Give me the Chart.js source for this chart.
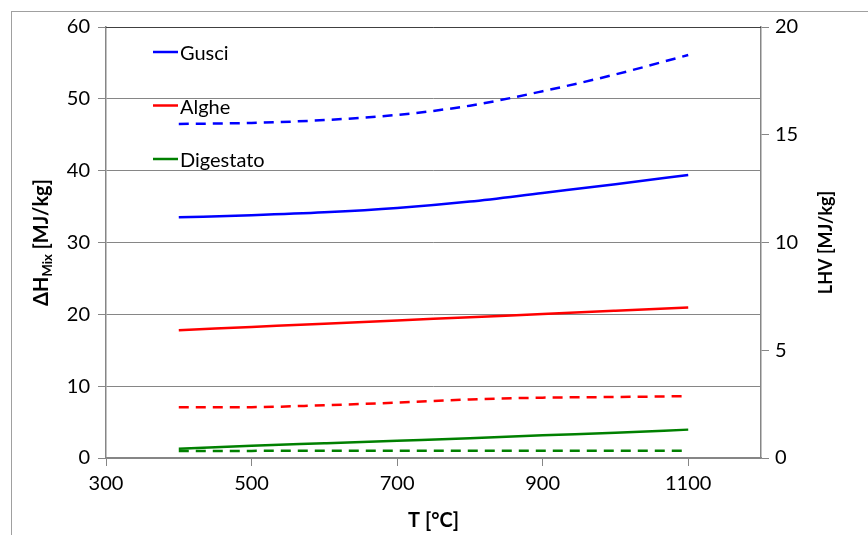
<!DOCTYPE html>
<html>
<head>
<meta charset="utf-8">
<script src="https://cdn.jsdelivr.net/npm/chart.js@4"></script>
<style>
  body { margin: 0; background: #fff; }
  #cornice { position: absolute; left: 11px; top: 11px; width: 900px; height: 600px; border: 1px solid #a0a0a0; }
  #contenitore { position: absolute; left: 0; top: 0; width: 868px; height: 535px; }
</style>
</head>
<body>
<div id="cornice"></div>
<div id="contenitore"><canvas id="grafico" width="868" height="535"></canvas></div>
<script>
// temperature [°C]
const temperature = [400, 500, 600, 700, 800, 900, 1000, 1100];
const tickX = [300, 500, 700, 900, 1100];

// ΔH Mix [MJ/kg] (asse sinistro)
const dhGusci = [33.5, 33.8, 34.2, 34.8, 35.7, 36.9, 38.1, 39.4];
const dhAlghe = [17.8, 18.25, 18.7, 19.15, 19.6, 20.05, 20.5, 20.95];
const dhDigestato = [1.3, 1.7, 2.05, 2.4, 2.75, 3.15, 3.5, 3.95];

// LHV [MJ/kg] (asse destro)
const lhvGusci = [15.5, 15.55, 15.68, 15.92, 16.35, 17.02, 17.8, 18.7];
const lhvAlghe = [2.36, 2.36, 2.45, 2.57, 2.72, 2.8, 2.83, 2.87];
const lhvDigestato = [0.32, 0.33, 0.34, 0.34, 0.34, 0.34, 0.34, 0.34];

const nomi = ["Gusci", "Alghe", "Digestato"];
const colori = ["#0000ff", "#ff0000", "#008000"];

const font = "Lato";
const grigio = "#868686";

function punti(valori) {
  return valori.map((v, i) => ({ x: temperature[i], y: v }));
}

function serie(label, valori, colore, asse, tratteggio) {
  return {
    label: label,
    data: punti(valori),
    borderColor: colore,
    backgroundColor: colore,
    borderWidth: 2.5,
    borderDash: tratteggio ? [10, 7] : [],
    pointRadius: 0,
    cubicInterpolationMode: "monotone",
    yAxisID: asse,
    fill: false
  };
}

const titoli = {
  id: "titoli",
  afterDraw(chart) {
    const ctx = chart.ctx;
    const area = chart.chartArea;
    const cy = (area.top + area.bottom) / 2;
    ctx.save();
    ctx.fillStyle = "#000";

    // linea superiore più scura
    ctx.strokeStyle = "#404040";
    ctx.lineWidth = 1;
    ctx.beginPath();
    ctx.moveTo(area.left, area.top + 0.5);
    ctx.lineTo(area.right, area.top + 0.5);
    ctx.stroke();

    // titolo asse sinistro con pedice
    ctx.save();
    ctx.translate(48, cy);
    ctx.rotate(-Math.PI / 2);
    const fb = "bold 20px " + font;
    const fs = "bold 13px " + font;
    ctx.font = fb;
    const w1 = ctx.measureText("ΔH").width;
    const w3 = ctx.measureText(" [MJ/kg]").width;
    ctx.font = fs;
    const w2 = ctx.measureText("Mix").width;
    let x = -(w1 + w2 + w3) / 2;
    ctx.textBaseline = "alphabetic";
    ctx.font = fb;
    ctx.fillText("ΔH", x, 0);
    x += w1;
    ctx.font = fs;
    ctx.fillText("Mix", x, 4);
    x += w2;
    ctx.font = fb;
    ctx.fillText(" [MJ/kg]", x, 0);
    ctx.restore();

    // titolo asse destro
    ctx.save();
    ctx.translate(832, cy);
    ctx.rotate(-Math.PI / 2);
    ctx.font = "bold 18px " + font;
    ctx.textAlign = "center";
    ctx.textBaseline = "alphabetic";
    ctx.fillText("LHV [MJ/kg]", 0, 0);
    ctx.restore();

    // titolo asse x
    ctx.font = "bold 20px " + font;
    ctx.textAlign = "center";
    ctx.textBaseline = "middle";
    ctx.fillText("T [°C]", (area.left + area.right) / 2, 521);

    // legenda interna (solo linee continue)
    ctx.font = "20px " + font;
    ctx.textAlign = "left";
    ctx.textBaseline = "middle";
    nomi.forEach((n, i) => {
      const y = area.top + 25 + i * 53.5;
      ctx.strokeStyle = colori[i];
      ctx.lineWidth = 2.5;
      ctx.beginPath();
      ctx.moveTo(area.left + 47, y);
      ctx.lineTo(area.left + 72, y);
      ctx.stroke();
      ctx.fillText(n, area.left + 74, y + 2);
    });
    ctx.restore();
  }
};

const ctx = document.getElementById("grafico").getContext("2d");
new Chart(ctx, {
  type: "line",
  data: {
    datasets: [
      serie(nomi[0], dhGusci, colori[0], "y", false),
      serie(nomi[1], dhAlghe, colori[1], "y", false),
      serie(nomi[2], dhDigestato, colori[2], "y", false),
      serie(nomi[0] + " LHV", lhvGusci, colori[0], "y2", true),
      serie(nomi[1] + " LHV", lhvAlghe, colori[1], "y2", true),
      serie(nomi[2] + " LHV", lhvDigestato, colori[2], "y2", true)
    ]
  },
  options: {
    responsive: false,
    animation: false,
    layout: { padding: { top: 27, left: 0, right: 0, bottom: 0 } },
    plugins: { legend: { display: false }, tooltip: { enabled: false } },
    scales: {
      x: {
        type: "linear",
        min: 300,
        max: 1200,
        afterBuildTicks: s => { s.ticks = tickX.map(v => ({ value: v })); },
        afterFit: s => { s.height = 77; },
        grid: { drawOnChartArea: false, drawTicks: true, tickLength: 8, color: grigio },
        border: { color: grigio, width: 1.5 },
        ticks: { color: "#000", font: { family: font, size: 20 }, padding: 6, maxRotation: 0, callback: v => String(v) }
      },
      y: {
        position: "left",
        min: 0,
        max: 60,
        afterFit: s => { s.width = 106; },
        grid: { drawTicks: true, tickLength: 8, color: grigio, lineWidth: 1 },
        border: { color: grigio, width: 1.5 },
        ticks: { stepSize: 10, color: "#000", font: { family: font, size: 20 }, padding: 8 }
      },
      y2: {
        position: "right",
        min: 0,
        max: 20,
        afterFit: s => { s.width = 107; },
        grid: { drawOnChartArea: false, drawTicks: true, tickLength: 8, color: grigio },
        border: { color: grigio, width: 1.5 },
        ticks: { stepSize: 5, color: "#000", font: { family: font, size: 20 }, padding: 6 }
      }
    }
  },
  plugins: [titoli]
});
</script>
</body>
</html>
